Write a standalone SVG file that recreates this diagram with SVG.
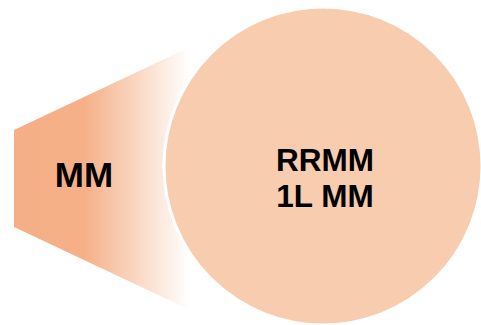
<svg xmlns="http://www.w3.org/2000/svg" width="481" height="325" viewBox="0 0 481 325">
  <style>
    .label { font-family: "Liberation Sans", Arial, sans-serif; font-weight: bold; fill: #000; text-anchor: middle; }
  </style>
  <defs>
    <linearGradient id="beamFill" gradientUnits="userSpaceOnUse" x1="14" y1="0" x2="190" y2="0">
      <stop offset="0" stop-color="#F5AF86"/>
      <stop offset="0.4" stop-color="#F5B088"/>
      <stop offset="1" stop-color="#FFFFFF"/>
    </linearGradient>
  </defs>
  <rect width="481" height="325" fill="#FFFFFF"/>

  <!-- Narrow end: widening beam feeding into the circle -->
  <g id="node-mm">
    <polygon points="14,130 190,47 190,310 14,227" fill="url(#beamFill)"/>
    <text class="label" x="84" y="187" font-size="35">MM</text>
  </g>

  <!-- Wide end: large circle -->
  <g id="node-rrmm">
    <circle cx="323" cy="166" r="159" fill="#F8CCAF" stroke="#FFFFFF" stroke-width="3"/>
    <text class="label" x="325" y="171" font-size="31.5">RRMM</text>
    <text class="label" x="325" y="207" font-size="31.5">1L MM</text>
  </g>

  <g id="connectors"/>
</svg>
